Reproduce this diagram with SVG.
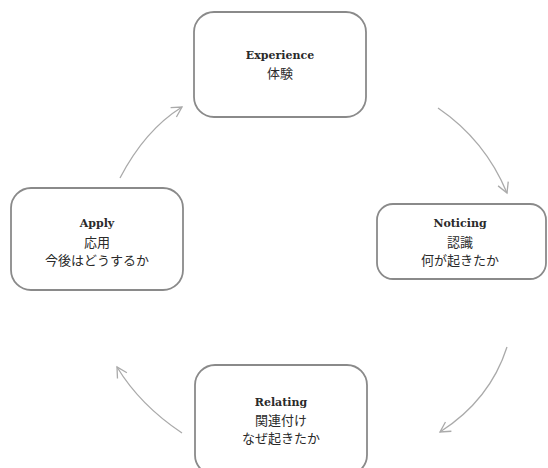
<svg xmlns="http://www.w3.org/2000/svg" width="548" height="468" viewBox="0 0 548 468">
<style>
.box{fill:#fff;stroke:#8a8a8a;stroke-width:1.8}
.en{font-family:"DejaVu Serif","Liberation Serif",serif;font-size:11px;fill:#2a2a2a;text-anchor:middle;font-weight:bold}
.jp{font-family:"Noto Sans CJK JP",sans-serif;font-size:13px;fill:#2a2a2a;text-anchor:middle}
.arr{fill:none;stroke:#aaaaaa;stroke-width:1.3}
</style>
<defs>
<marker id="ah" markerUnits="userSpaceOnUse" markerWidth="16" markerHeight="16" refX="11" refY="6" orient="auto" viewBox="0 0 16 12">
<path d="M1,0.5 L11,6 L1,11.5" fill="none" stroke="#aaaaaa" stroke-width="1.3"/>
</marker>
</defs>
<rect width="548" height="468" fill="#fff"/>
<g id="connectors">
<path class="arr" d="M120,178 Q145,130 182,107" marker-end="url(#ah)"/>
<path class="arr" d="M438,108 Q485,140 507,193" marker-end="url(#ah)"/>
<path class="arr" d="M507,347 Q490,400 440,432" marker-end="url(#ah)"/>
<path class="arr" d="M182,433 Q140,405 117,367" marker-end="url(#ah)"/>
</g>
<g id="experience">
<rect class="box" x="194" y="12" width="172" height="105" rx="20"/>
<text class="en" x="280" y="59">Experience</text>
<text class="jp" x="280" y="78">体験</text>
</g>
<g id="noticing">
<rect class="box" x="377" y="204" width="169" height="75" rx="16"/>
<text class="en" x="460" y="227">Noticing</text>
<text class="jp" x="460" y="247">認識</text>
<text class="jp" x="460" y="265">何が起きたか</text>
</g>
<g id="relating">
<rect class="box" x="195" y="365" width="172" height="110" rx="20"/>
<text class="en" x="281" y="406">Relating</text>
<text class="jp" x="281" y="425">関連付け</text>
<text class="jp" x="281" y="443">なぜ起きたか</text>
</g>
<g id="apply">
<rect class="box" x="11" y="188" width="172" height="102" rx="20"/>
<text class="en" x="97" y="227">Apply</text>
<text class="jp" x="97" y="247">応用</text>
<text class="jp" x="97" y="265">今後はどうするか</text>
</g>
</svg>
